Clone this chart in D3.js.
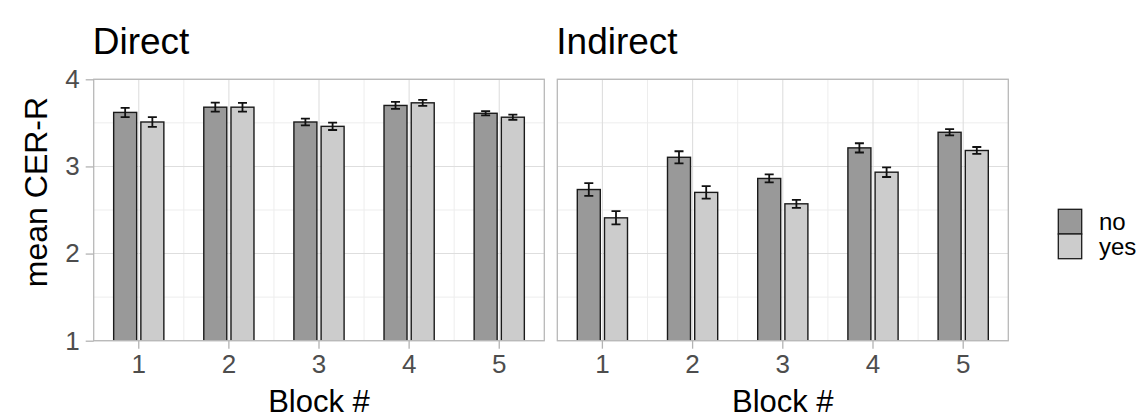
<!DOCTYPE html>
<html>
<head>
<meta charset="utf-8">
<script src="https://cdn.jsdelivr.net/npm/d3@7"></script>
<style>
  html, body { margin: 0; padding: 0; background: #fff; }
  svg { display: block; font-family: "Liberation Sans", Arial, sans-serif; }
</style>
</head>
<body>
<svg id="chart" width="1147" height="419"></svg>
<script>
// Mean CER-R per block, split by condition (no / yes), with standard errors
const panels = ["Direct", "Indirect"];
const blocks = ["1", "2", "3", "4", "5"];
const groups = ["no", "yes"];
const yTicks = [1, 2, 3, 4];

const directNo   = [3.62, 3.68, 3.51, 3.70, 3.61];
const directYes  = [3.51, 3.68, 3.46, 3.73, 3.565];
const directNoSe  = [0.053, 0.052, 0.038, 0.040, 0.025];
const directYesSe = [0.055, 0.050, 0.042, 0.034, 0.029];

const indirectNo   = [2.735, 3.105, 2.862, 3.213, 3.392];
const indirectYes  = [2.41, 2.702, 2.571, 2.934, 3.183];
const indirectNoSe  = [0.073, 0.069, 0.046, 0.053, 0.036];
const indirectYesSe = [0.076, 0.071, 0.046, 0.055, 0.040];

const fills = { no: "#999999", yes: "#cccccc" };

function rows(means, ses, group) {
  return blocks.map((b, i) => ({ block: b, group, mean: means[i], se: ses[i] }));
}
const panelData = {
  Direct: rows(directNo, directNoSe, "no").concat(rows(directYes, directYesSe, "yes")),
  Indirect: rows(indirectNo, indirectNoSe, "no").concat(rows(indirectYes, indirectYesSe, "yes"))
};

const svg = d3.select("#chart");
const panelTop = 79.3, panelBottom = 340.7;
const panelX = { Direct: [93.7, 544.3], Indirect: [557.3, 1008.3] };

const y = d3.scaleLinear().domain([1, 4]).range([panelBottom, panelTop]);
const dodge = d3.scalePoint().domain(groups).range([-13.6, 13.6]);
const barW = 23;
const capW = 9;

const defs = svg.append("defs");

panels.forEach((name, pi) => {
  const [x0, x1] = panelX[name];
  const x = d3.scaleBand().domain(blocks).range([x0, x1]).padding(0);
  const cx = b => x(b) + x.bandwidth() / 2;

  const clipId = "clip-" + pi;
  defs.append("clipPath").attr("id", clipId)
    .append("rect").attr("x", x0).attr("y", panelTop).attr("width", x1 - x0).attr("height", panelBottom - panelTop);

  const g = svg.append("g");

  // minor grid
  [1.5, 2.5, 3.5].forEach(v => {
    g.append("line").attr("x1", x0).attr("x2", x1).attr("y1", y(v)).attr("y2", y(v))
      .attr("stroke", "#ededed").attr("stroke-width", 1);
  });
  blocks.slice(1).forEach(b => {
    g.append("line").attr("x1", x(b)).attr("x2", x(b)).attr("y1", panelTop).attr("y2", panelBottom)
      .attr("stroke", "#ededed").attr("stroke-width", 1);
  });
  // major grid
  yTicks.forEach(v => {
    g.append("line").attr("x1", x0).attr("x2", x1).attr("y1", y(v)).attr("y2", y(v))
      .attr("stroke", "#dedede").attr("stroke-width", 1.1);
  });
  blocks.forEach(b => {
    g.append("line").attr("x1", cx(b)).attr("x2", cx(b)).attr("y1", panelTop).attr("y2", panelBottom)
      .attr("stroke", "#dedede").attr("stroke-width", 1.1);
  });

  const data = panelData[name];
  const marks = g.append("g").attr("clip-path", `url(#${clipId})`);

  marks.selectAll("rect.bar").data(data).join("rect")
    .attr("class", "bar")
    .attr("x", d => cx(d.block) + dodge(d.group) - barW / 2)
    .attr("width", barW)
    .attr("y", d => y(d.mean))
    .attr("height", d => y(0) - y(d.mean))
    .attr("fill", d => fills[d.group])
    .attr("stroke", "#1a1a1a")
    .attr("stroke-width", 1.4);

  const eb = marks.selectAll("g.err").data(data).join("g").attr("class", "err")
    .attr("stroke", "#111").attr("stroke-width", 1.8).attr("fill", "none");
  eb.append("line")
    .attr("x1", d => cx(d.block) + dodge(d.group)).attr("x2", d => cx(d.block) + dodge(d.group))
    .attr("y1", d => y(d.mean + d.se)).attr("y2", d => y(d.mean - d.se));
  eb.append("line")
    .attr("x1", d => cx(d.block) + dodge(d.group) - capW / 2).attr("x2", d => cx(d.block) + dodge(d.group) + capW / 2)
    .attr("y1", d => y(d.mean + d.se)).attr("y2", d => y(d.mean + d.se));
  eb.append("line")
    .attr("x1", d => cx(d.block) + dodge(d.group) - capW / 2).attr("x2", d => cx(d.block) + dodge(d.group) + capW / 2)
    .attr("y1", d => y(d.mean - d.se)).attr("y2", d => y(d.mean - d.se));

  // panel border
  g.append("rect").attr("x", x0).attr("y", panelTop).attr("width", x1 - x0).attr("height", panelBottom - panelTop)
    .attr("fill", "none").attr("stroke", "#b8b8b8").attr("stroke-width", 1.3);

  // x axis
  const xAxis = d3.axisBottom(x).tickSize(8).tickPadding(6);
  const xa = svg.append("g").attr("transform", `translate(0,${panelBottom})`).call(xAxis);
  xa.select(".domain").remove();
  xa.selectAll(".tick line").attr("stroke", "#b3b3b3").attr("stroke-width", 1.3);
  xa.selectAll(".tick text").attr("fill", "#4d4d4d").attr("font-size", 26)
    .attr("font-family", "'Liberation Sans', Arial, sans-serif");

  svg.append("text").attr("x", (x0 + x1) / 2).attr("y", 411.5)
    .attr("text-anchor", "middle").attr("font-size", 31).attr("fill", "#000")
    .text("Block #");

  // facet title
  svg.append("text").attr("x", x0 - 1).attr("y", 54)
    .attr("font-size", 37).attr("fill", "#000").text(name);

  if (pi === 0) {
    const yAxis = d3.axisLeft(y).tickValues(yTicks).tickFormat(d3.format("d")).tickSize(8).tickPadding(6);
    const ya = svg.append("g").attr("transform", `translate(${x0},0)`).call(yAxis);
    ya.select(".domain").remove();
    ya.selectAll(".tick line").attr("stroke", "#b3b3b3").attr("stroke-width", 1.3);
    ya.selectAll(".tick text").attr("fill", "#4d4d4d").attr("font-size", 26)
      .attr("font-family", "'Liberation Sans', Arial, sans-serif");
  }
});

// y axis title
svg.append("text")
  .attr("transform", "translate(47,192) rotate(-90)")
  .attr("text-anchor", "middle").attr("font-size", 32).attr("fill", "#000")
  .text("mean CER-R");

// legend
const legend = svg.append("g");
const keyX = 1058.3, keyY = 209.3, keyW = 23.4, keyH = 24.7;
groups.forEach((grp, i) => {
  legend.append("rect")
    .attr("x", keyX).attr("y", keyY + i * keyH).attr("width", keyW).attr("height", keyH)
    .attr("fill", fills[grp]).attr("stroke", "#1a1a1a").attr("stroke-width", 1.3);
  legend.append("text")
    .attr("x", 1099).attr("y", keyY + i * keyH + keyH / 2)
    .attr("dy", "0.35em").attr("font-size", 24).attr("fill", "#000")
    .text(grp);
});
</script>
</body>
</html>
